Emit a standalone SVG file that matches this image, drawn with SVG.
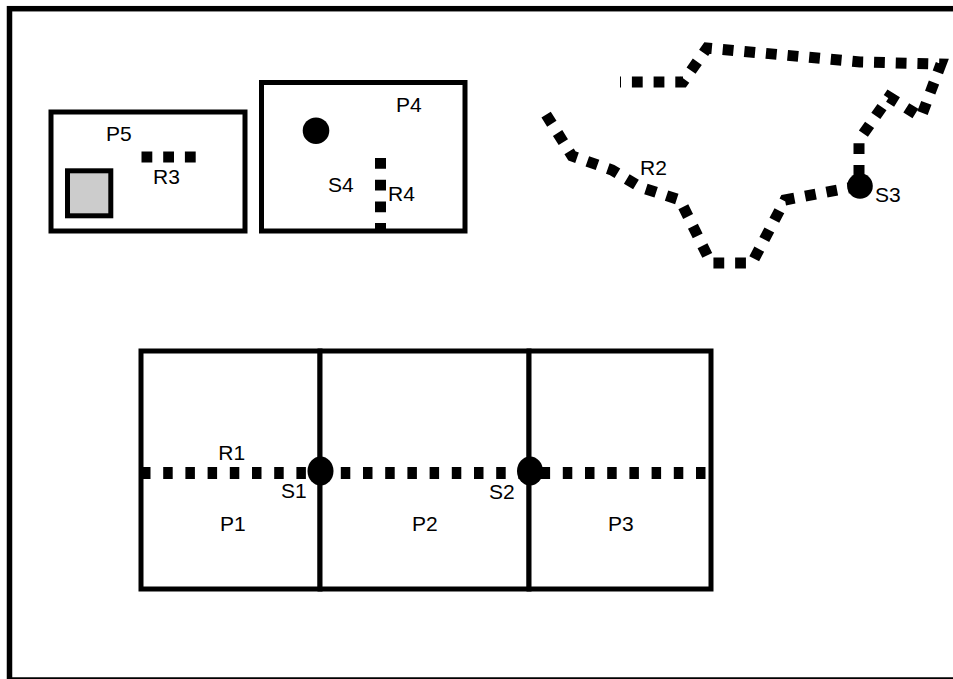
<svg xmlns="http://www.w3.org/2000/svg" width="953" height="679" viewBox="0 0 953 679">
<style>
.frame{fill:none;stroke:#000;stroke-width:5.5}
.box{fill:#fff;stroke:#000;stroke-width:5}
.road{fill:none;stroke:#000;stroke-width:11;stroke-dasharray:10.8 10.9;stroke-linejoin:miter}
.road1{fill:none;stroke:#000;stroke-width:12;stroke-dasharray:9.5 12.7}
.stop{fill:#000}
text{font-family:"Liberation Sans",Arial,sans-serif;font-size:21px;fill:#000}
</style>
<rect width="953" height="679" fill="#fff"/>
<rect class="frame" x="9.5" y="8.7" width="960" height="671.3"/>

<g id="P5">
<rect class="box" x="51" y="112" width="194" height="119"/>
<rect x="67.5" y="170.8" width="43.3" height="45" fill="#ccc" stroke="#000" stroke-width="5"/>
<text x="106" y="141">P5</text>
</g>
<g id="P4">
<rect class="box" x="261.5" y="82.5" width="203.5" height="148.5"/>
<text x="396" y="112">P4</text>
</g>
<g id="P1">
<rect class="box" x="141" y="351" width="179" height="238"/>
<text x="220" y="531">P1</text>
</g>
<g id="P2">
<rect class="box" x="320" y="351" width="209" height="238"/>
<text x="412" y="531">P2</text>
</g>
<g id="P3">
<rect class="box" x="529" y="351" width="182" height="238"/>
<text x="608" y="531">P3</text>
</g>

<g id="connectors">
<path id="R1" class="road1" d="M141,473 H711"/>
<path id="R2" class="road" stroke-dashoffset="9.8" d="M620,82 L683,82 L707,48 L860,62 L941,64 L921,117 L889,97 L859,140 L859,186 L785,200 L752,263 L711,263 L680,200 L640,187 L612,170 L572,156 L542,108"/>
<path id="R3" class="road" d="M141.5,157 H197"/>
<path id="R4" class="road" d="M380.5,158 V231"/>
</g>

<g id="S1"><ellipse class="stop" cx="320.5" cy="471" rx="13" ry="14.5"/><text x="281" y="498">S1</text></g>
<g id="S2"><ellipse class="stop" cx="530" cy="471" rx="13" ry="14.5"/><text x="489" y="499">S2</text></g>
<g id="S3"><circle class="stop" cx="860" cy="186" r="12.8"/><text x="875" y="202">S3</text></g>
<g id="S4"><circle class="stop" cx="316" cy="130.7" r="13.3"/><text x="328" y="192">S4</text></g>

<g id="labels">
<text x="218.3" y="460">R1</text>
<text x="640" y="175">R2</text>
<text x="153" y="184">R3</text>
<text x="388" y="201">R4</text>
</g>
</svg>
